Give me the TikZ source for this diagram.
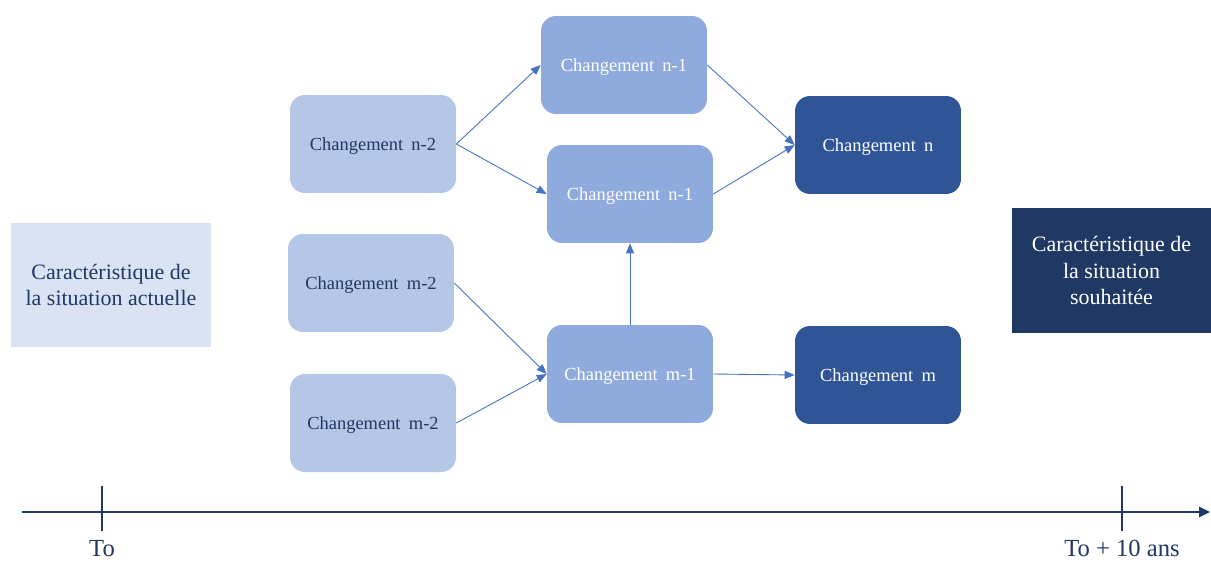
\documentclass[tikz,border=0pt]{standalone}
\usepackage{fontspec}
\setmainfont{Liberation Serif}
\usetikzlibrary{arrows.meta}
\definecolor{paleBlue}{HTML}{DAE3F3}
\definecolor{lightBlue}{HTML}{B4C7E7}
\definecolor{midBlue}{HTML}{8FAADC}
\definecolor{deepBlue}{HTML}{2F5597}
\definecolor{navyBlue}{HTML}{203864}
\definecolor{arrowBlue}{HTML}{4472C4}
\tikzstyle{chart} = [x = .02cm, y = -.02cm]
\tikzstyle{changeBox} = [rounded corners = .3cm, minimum width = 3.32cm, minimum height = 1.96cm, inner sep = 0pt, text depth = 0pt, font = \fontsize{10.5}{12}\selectfont]
\tikzstyle{earlyBox} = [changeBox, fill=lightBlue, text=navyBlue]
\tikzstyle{middleBox} = [changeBox, fill=midBlue, text=white]
\tikzstyle{finalBox} = [changeBox, fill=deepBlue, text=white]
\tikzstyle{stateBox} = [minimum width = 4cm, minimum height = 2.5cm, inner sep = 0pt, align=center, font = \fontsize{12.5}{15}\selectfont]
\tikzstyle{changeArrow} = [draw=arrowBlue, line width=.5pt, -{Triangle[length=.2cm, width=.16cm]}]
\tikzstyle{timeLine} = [draw=navyBlue, line width=1.4pt]
\tikzstyle{timeText} = [text=navyBlue, inner sep = 0pt, text depth = 0pt, anchor = base, font = \fontsize{14}{16}\selectfont]
\newcommand{\changeText}[1]{Changement\hspace{.45em}#1}

\begin{document}
\begin{tikzpicture}[chart]
  \useasboundingbox (0,0) rectangle (1211,562);
  % the two situations
  \node [stateBox, fill=paleBlue, text=navyBlue] (current) at (111,285) {Caract\'eristique de\\la situation actuelle};
  \node [stateBox, fill=navyBlue, text=white] (desired) at (1111.5,270.5) {Caract\'eristique de\\la situation\\souhait\'ee};
  % changes
  \node [earlyBox] (nTwo) at (373,144) {\changeText{n-2}};
  \node [earlyBox] (mTwoUp) at (371,283) {\changeText{m-2}};
  \node [earlyBox] (mTwoDown) at (373,423) {\changeText{m-2}};
  \node [middleBox] (nOneUp) at (624,65) {\changeText{n-1}};
  \node [middleBox] (nOneDown) at (630,194) {\changeText{n-1}};
  \node [middleBox] (mOne) at (630,374) {\changeText{m-1}};
  \node [finalBox] (nFinal) at (878,145) {\changeText{n}};
  \node [finalBox] (mFinal) at (878,375) {\changeText{m}};
  % links
  \draw [changeArrow] (nTwo.east) -- (nOneUp.west);
  \draw [changeArrow] (nTwo.east) -- (nOneDown.west);
  \draw [changeArrow] (nOneUp.east) -- (nFinal.west);
  \draw [changeArrow] (nOneDown.east) -- (nFinal.west);
  \draw [changeArrow] (mTwoUp.east) -- (mOne.west);
  \draw [changeArrow] (mTwoDown.east) -- (mOne.west);
  \draw [changeArrow] (mOne.north) -- (nOneDown.south);
  \draw [changeArrow] (mOne.east) -- (mFinal.west);
  % time axis
  \coordinate (timeStart) at (22,512);
  \coordinate (timeEnd) at (1210,512);
  \draw [timeLine, -{Triangle[length=.22cm, width=.2cm]}] (timeStart) -- (timeEnd);
  \draw [timeLine] (102,486) -- (102,531);
  \draw [timeLine] (1122,486) -- (1122,531);
  \node [timeText] (startLabel) at (102,556) {To};
  \node [timeText] (endLabel) at (1122,556) {To + 10 ans};
\end{tikzpicture}
\end{document}
